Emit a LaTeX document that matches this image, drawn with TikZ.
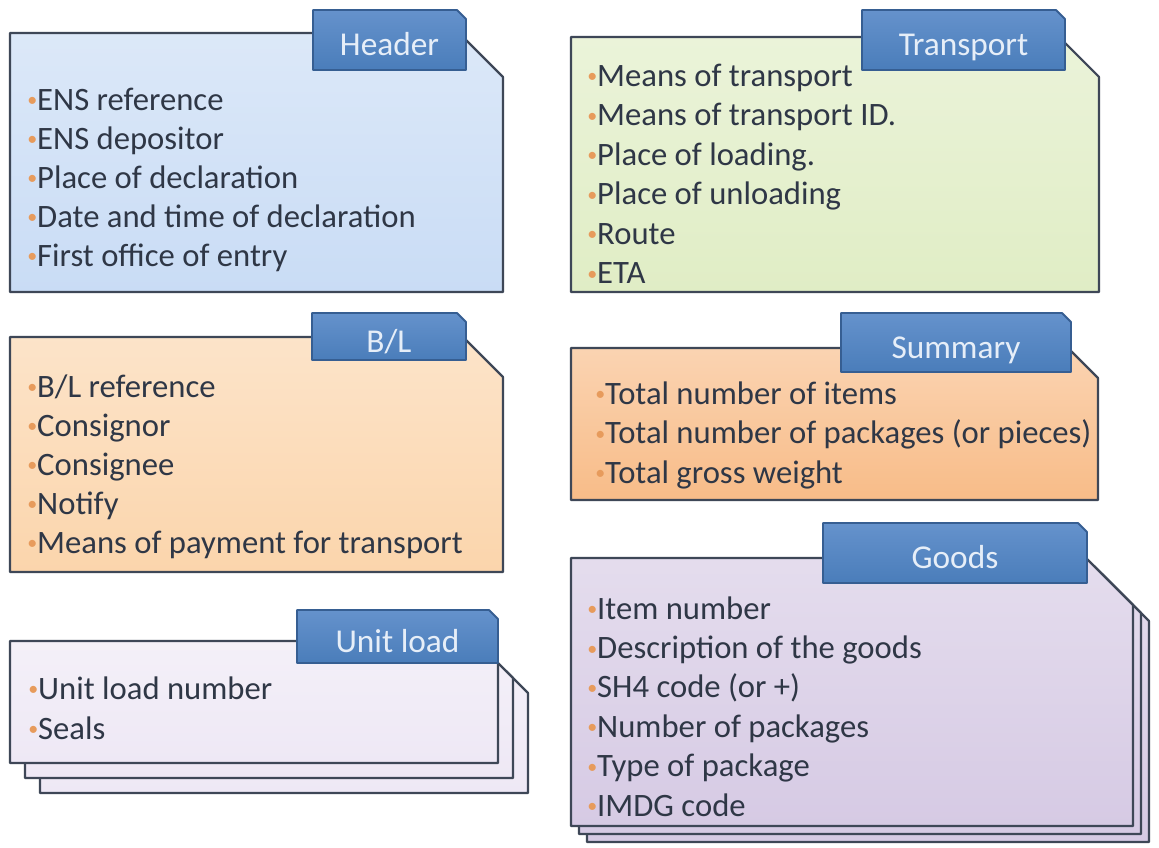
\documentclass[tikz,border=0pt]{standalone}
\usepackage{fontspec}
\setmainfont{Carlito}
\usetikzlibrary{positioning}
\definecolor{hdrfill}{HTML}{C9DCF5}
\definecolor{trpfill}{HTML}{E0EDC5}
\definecolor{blfill}{HTML}{FBD5AC}
\definecolor{sumfill}{HTML}{F8BC88}
\definecolor{ulfill}{HTML}{EEE8F5}
\definecolor{gdsfill}{HTML}{D6CAE4}
\definecolor{cardline}{HTML}{3E4757}
\definecolor{tabfill}{HTML}{4A7DBA}
\definecolor{tabtop}{HTML}{6592CC}
\definecolor{tabline}{HTML}{365E92}
\definecolor{tabtext}{HTML}{E6EEF8}
\definecolor{itemtext}{HTML}{2F3746}
\definecolor{dot}{HTML}{E79B5C}
\tikzstyle{card}=[draw=cardline,line width=1.6pt,line join=round]
\tikzstyle{tab}=[draw=tabline,line width=1.4pt,line join=round,top color=tabtop,bottom color=tabfill]
\tikzstyle{tablabel}=[text=tabtext,font=\fontsize{25}{25}\selectfont,inner sep=0pt,text height=16pt,text depth=0pt]
\tikzstyle{item}=[anchor=base west,inner sep=0pt,text=itemtext,font=\fontsize{24.5}{29}\selectfont]
\newcommand{\dotmark}{\textcolor{dot}{\fontsize{15}{15}\selectfont\raisebox{2.5pt}{•}}}
\newcommand{\newCard}[6]{\draw[card,top color=#1!65!white,bottom color=#1] (#2,#3) -- ({#4-#6},#3) -- (#4,{#3+#6}) -- (#4,#5) -- (#2,#5) -- cycle;}
\newcommand{\newTab}[6]{\draw[tab] (#2,#3) -- ({#4-9},#3) -- (#4,{#3+9}) -- (#4,#5) -- (#2,#5) -- cycle;
  \node[tablabel] (#1) at ({(#2+#4)/2},{(#3+#5)/2+5}) {#6};}
\newcommand{\newList}[5]{\foreach \t [count=\i] in {#5}
  \node[item] (#1\i) at (#2,{#3+(\i-1)*#4}) {\dotmark\t};}
\begin{document}
\begin{tikzpicture}[x=0.75pt,y=-0.75pt]
  \useasboundingbox[fill=white] (0,0) rectangle (1159,847);
  % header
  \newCard{hdrfill}{10}{33}{503}{292}{44}
  \newTab{hdrtab}{313}{10}{466}{70}{Header}
  \newList{hdr}{27}{110}{39}{ENS reference,ENS depositor,Place of declaration,Date and time of declaration,First office of entry}
  % transport
  \newCard{trpfill}{571}{37}{1099}{292}{40}
  \newTab{trptab}{862}{10}{1065}{70}{Transport}
  \newList{trp}{587}{86}{39.5}{Means of transport,Means of transport ID.,Place of loading.,Place of unloading,Route,ETA}
  % bill of lading
  \newCard{blfill}{10}{337}{503}{572}{40}
  \newTab{bltab}{312}{313}{466}{360}{B/L}
  \newList{bl}{27}{397}{39}{B/L reference,Consignor,Consignee,Notify,Means of payment for transport}
  % summary
  \newCard{sumfill}{571}{348}{1098}{500}{30}
  \newTab{sumtab}{841}{313}{1071}{372}{Summary}
  \newList{sum}{595}{404}{39.5}{Total number of items,Total number of packages (or pieces),Total gross weight}
  % unit load, three sheets
  \newCard{ulfill}{40}{671}{528}{793}{22}
  \newCard{ulfill}{25}{656}{513}{778}{22}
  \newCard{ulfill}{10}{641}{498}{763}{22}
  \newTab{ultab}{297}{610}{498}{663}{Unit load}
  \newList{ul}{28}{699}{40}{Unit load number,Seals}
  % goods, three sheets
  \newCard{gdsfill}{587}{574}{1149}{842}{47}
  \newCard{gdsfill}{579}{566}{1141}{834}{47}
  \newCard{gdsfill}{571}{558}{1133}{826}{47}
  \newTab{gdstab}{823}{523}{1087}{583}{Goods}
  \newList{gds}{587}{619}{39.4}{Item number,Description of the goods,SH4 code (or +),Number of packages,Type of package,IMDG code}
\end{tikzpicture}
\end{document}
